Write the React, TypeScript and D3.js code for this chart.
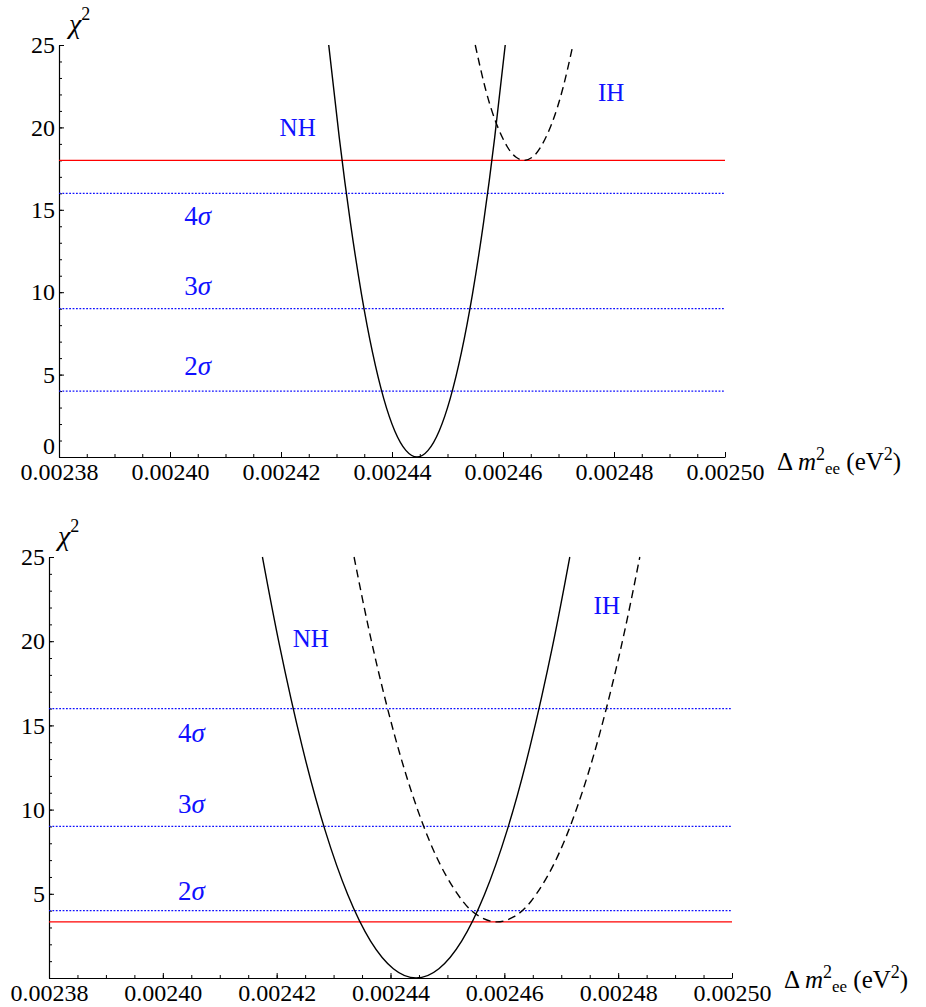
import * as React from "react";
import { useEffect, useRef } from "react";
import * as d3 from "d3";

// x axis (Δm²ee in eV²)
const xTicks = [0.00238, 0.0024, 0.00242, 0.00244, 0.00246, 0.00248, 0.0025];
const xTickLabels = ["0.00238", "0.00240", "0.00242", "0.00244", "0.00246", "0.00248", "0.00250"];
const topYTicks = [0, 5, 10, 15, 20, 25];
const bottomYTicks = [5, 10, 15, 20, 25];

// confidence levels (dotted blue) and their labels
const sigmaLevels = [4, 9, 16];
const sigmaLabels = ["2", "3", "4"];

// upper panel
const topNhX = [0.0024286, 0.0024305, 0.0024325, 0.0024345, 0.0024365, 0.0024385, 0.0024405, 0.0024425, 0.0024445,
  0.0024465, 0.0024485, 0.0024505, 0.0024525, 0.0024545, 0.0024565, 0.0024585, 0.0024604];
const topNhChi2 = [25.0, 19.38, 14.24, 9.89, 6.33, 3.56, 1.58, 0.4, 0, 0.4, 1.58, 3.56, 6.33, 9.89, 14.24, 19.38, 25.0];
const topIhX = [0.002455, 0.0024568, 0.0024588, 0.0024608, 0.0024623, 0.0024638, 0.0024653, 0.0024668, 0.0024688,
  0.0024708, 0.0024726];
const topIhChi2 = [25.0, 22.39, 20.24, 18.81, 18.2, 18.0, 18.2, 18.81, 20.24, 22.39, 25.0];
const topRedLevel = 18;

// lower panel
const bottomNhX = [0.0024175, 0.0024205, 0.0024245, 0.0024285, 0.0024325, 0.0024365, 0.0024405, 0.0024445,
  0.0024485, 0.0024525, 0.0024565, 0.0024605, 0.0024645, 0.0024685, 0.0024715];
const bottomNhChi2 = [25.0, 19.75, 13.72, 8.78, 4.94, 2.19, 0.55, 0, 0.55, 2.19, 4.94, 8.78, 13.72, 19.75, 25.0];
const bottomIhX = [0.0024336, 0.0024367, 0.0024407, 0.0024447, 0.0024487, 0.0024527, 0.0024557, 0.0024587,
  0.0024617, 0.0024647, 0.0024687, 0.0024727, 0.0024767, 0.0024807, 0.0024838];
const bottomIhChi2 = [25.0, 19.93, 14.44, 10.05, 6.76, 4.56, 3.64, 3.33, 3.64, 4.56, 6.76, 10.05, 14.44, 19.93, 25.0];
const bottomRedLevel = 3.33;

const FONT = "'Liberation Serif', serif";
const BLUE = "#1010ff";

function drawPanel(svg, p) {
  const x = d3.scaleLinear().domain([0.00238, 0.0025]).range([p.left, p.right]);
  const y = d3.scaleLinear().domain([0, 25]).range([p.bottom, p.top]);

  const g = svg.append("g").attr("font-family", FONT);

  // minor ticks
  g.append("g")
    .attr("transform", `translate(0,${p.bottom})`)
    .call(d3.axisBottom(x).tickValues(d3.range(0.00238, 0.0025001, 0.000005)).tickSizeInner(-3).tickSizeOuter(0).tickFormat(() => ""))
    .call(a => a.select(".domain").remove());
  g.append("g")
    .attr("transform", `translate(${p.left},0)`)
    .call(d3.axisLeft(y).tickValues(d3.range(0, 26, 1)).tickSizeInner(-3).tickSizeOuter(0).tickFormat(() => ""))
    .call(a => a.select(".domain").remove());

  // major axes
  const xa = g.append("g")
    .attr("transform", `translate(0,${p.bottom})`)
    .call(d3.axisBottom(x).tickValues(xTicks).tickSizeInner(-5).tickSizeOuter(0).tickPadding(6)
      .tickFormat((d, i) => xTickLabels[i]));
  xa.attr("font-family", FONT).attr("font-size", 24);
  xa.selectAll("text").attr("fill", "#000").style("font-family", FONT);
  const ya = g.append("g")
    .attr("transform", `translate(${p.left},0)`)
    .call(d3.axisLeft(y).tickValues(p.yTicks).tickSizeInner(-5).tickSizeOuter(0).tickPadding(4));
  ya.attr("font-family", FONT).attr("font-size", 24);
  ya.selectAll("text").attr("fill", "#000").style("font-family", FONT);
  // the 0 label sits just above the first x label
  ya.selectAll(".tick").filter(d => d === 0).select("text").attr("dy", "-0.15em");
  g.selectAll(".domain").attr("stroke-width", 1.2);
  g.selectAll(".tick line").attr("stroke-width", 1);

  // reference lines
  g.selectAll(".sig").data(sigmaLevels).enter().append("line")
    .attr("x1", p.left).attr("x2", p.right)
    .attr("y1", d => y(d)).attr("y2", d => y(d))
    .attr("stroke", BLUE).attr("stroke-width", 1.3).attr("stroke-dasharray", "1.8,1.6");
  g.append("line")
    .attr("x1", p.left).attr("x2", p.right)
    .attr("y1", y(p.red)).attr("y2", y(p.red))
    .attr("stroke", "#ff0000").attr("stroke-width", 1.3);

  const line = d3.line().x(d => x(d[0])).y(d => y(d[1])).curve(d3.curveNatural);
  g.append("path")
    .attr("d", line(d3.zip(p.nhX, p.nhY)))
    .attr("fill", "none").attr("stroke", "#000").attr("stroke-width", 1.4);
  g.append("path")
    .attr("d", line(d3.zip(p.ihX, p.ihY)))
    .attr("fill", "none").attr("stroke", "#000").attr("stroke-width", 1.4).attr("stroke-dasharray", "8,5");

  // annotations
  g.append("text").attr("x", x(p.nh[0])).attr("y", y(p.nh[1])).attr("text-anchor", "middle")
    .attr("font-size", 25).attr("fill", BLUE).text("NH");
  g.append("text").attr("x", x(p.ih[0])).attr("y", y(p.ih[1])).attr("text-anchor", "middle")
    .attr("font-size", 25).attr("fill", BLUE).text("IH");
  sigmaLabels.forEach((s, i) => {
    const t = g.append("text").attr("x", x(p.sigmaX)).attr("y", y(p.sigmaY[i])).attr("text-anchor", "middle")
      .attr("font-size", 27).attr("fill", BLUE);
    t.append("tspan").text(s);
    t.append("tspan").attr("font-style", "italic").text("σ");
  });

  // χ² label
  const c = g.append("text").attr("x", p.left + p.chiDx).attr("y", p.top - 12).attr("font-size", 28);
  c.append("tspan").attr("font-style", "italic").text("χ");
  c.append("tspan").attr("font-size", 18).attr("dy", -13).text("2");

  // Δm²ee label
  const t = g.append("text").attr("x", p.right + 52).attr("y", p.bottom + p.labelDy).attr("font-size", 25);
  t.append("tspan").text("Δ ");
  t.append("tspan").attr("font-style", "italic").text("m");
  t.append("tspan").attr("font-size", 18).attr("dy", -10).text("2");
  t.append("tspan").attr("font-size", 17).attr("dy", 14).text("ee");
  t.append("tspan").attr("dy", -4).text(" (eV");
  t.append("tspan").attr("font-size", 18).attr("dy", -10).text("2");
  t.append("tspan").attr("dy", 10).text(")");
}

export default function App() {
  const ref = useRef(null);

  useEffect(() => {
    const svg = d3.select(ref.current);
    svg.selectAll("*").remove();
    drawPanel(svg, {
      left: 59, right: 725, top: 45, bottom: 457, yTicks: topYTicks, red: topRedLevel,
      nhX: topNhX, nhY: topNhChi2, ihX: topIhX, ihY: topIhChi2,
      nh: [0.002423, 19.5], ih: [0.0024795, 21.6], sigmaX: 0.002405, sigmaY: [4.98, 9.83, 14.08],
      chiDx: 10, labelDy: 13
    });
    drawPanel(svg, {
      left: 49, right: 732, top: 557, bottom: 978, yTicks: bottomYTicks, red: bottomRedLevel,
      nhX: bottomNhX, nhY: bottomNhChi2, ihX: bottomIhX, ihY: bottomIhChi2,
      nh: [0.002426, 19.66], ih: [0.002478, 21.6], sigmaX: 0.002405, sigmaY: [4.63, 9.8, 14.0],
      chiDx: 9, labelDy: 10
    });
  }, []);

  return (
    <svg ref={ref} width={926} height={1007}
      style={{ position: "absolute", left: 0, top: 0, display: "block", background: "#fff" }} />
  );
}
